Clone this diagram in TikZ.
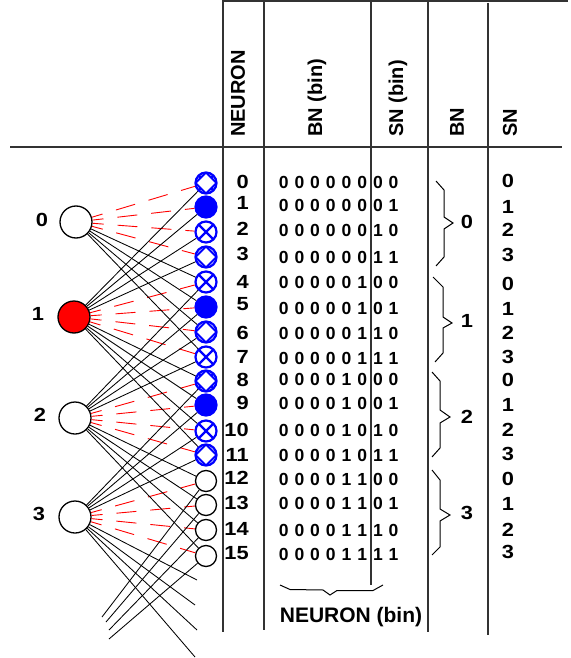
\documentclass[tikz,border=0pt]{standalone}
\usepackage{fontspec}
\setmainfont{Liberation Sans}
\newfontfamily\widesans{Liberation Sans}[FakeStretch=1.15]
\usetikzlibrary{calc}

% eight bits typeset in fixed-width cells
\newcommand\bitcells[8]{%
  \makebox[15.7pt]{#1}\makebox[15.7pt]{#2}\makebox[15.7pt]{#3}\makebox[15.7pt]{#4}%
  \makebox[15.7pt]{#5}\makebox[15.7pt]{#6}\makebox[15.7pt]{#7}\makebox[15.7pt]{#8}}

\tikzset{
  bignode/.style={circle, minimum size=32pt, inner sep=0pt, draw=black, line width=1.3pt, fill=white},
  sn/.style={circle, minimum size=21pt, inner sep=0pt, draw=blue, line width=2.2pt, fill=white},
  snfill/.style={sn, fill=blue},
  snx/.style={sn, path picture={\draw[blue, line width=2.2pt]
      (path picture bounding box.north west) -- (path picture bounding box.south east)
      (path picture bounding box.north east) -- (path picture bounding box.south west);}},
  snd/.style={sn, path picture={\draw[blue, line width=2pt]
      (path picture bounding box.north) -- (path picture bounding box.east) --
      (path picture bounding box.south) -- (path picture bounding box.west) -- cycle;}},
  snxd/.style={sn, path picture={\draw[blue, line width=2.2pt]
      (path picture bounding box.north west) -- (path picture bounding box.south east)
      (path picture bounding box.north east) -- (path picture bounding box.south west);
      \draw[blue, line width=2pt, fill=white]
      (path picture bounding box.north) -- (path picture bounding box.east) --
      (path picture bounding box.south) -- (path picture bounding box.west) -- cycle;}},
  snw/.style={circle, minimum size=21pt, inner sep=0pt, draw=black, line width=1.3pt, fill=white},
  excit/.style={draw=black, line width=0.85pt},
  inhib/.style={draw=red, line width=0.9pt, dash pattern=on 20pt off 14pt, dash phase=9pt},
  rule/.style={draw=black!80, line width=1.3pt},
  bracepath/.style={draw=black, line width=1pt},
  lbl/.style={inner sep=0pt, font=\widesans\bfseries\fontsize{19}{22}\selectfont},
  bits/.style={inner sep=0pt, anchor=west, font=\bfseries\fontsize{17.5}{20}\selectfont},
  head/.style={inner sep=0pt, rotate=90, anchor=west, font=\bfseries\fontsize{20}{24}\selectfont},
}

\begin{document}
\begin{tikzpicture}[x=1pt, y=-1pt]
\useasboundingbox (0,0) rectangle (570,658);

% ---------- table rules ----------
\draw[rule] (223,1) -- (568,1);
\draw[rule] (10,147) -- (562,147);
\draw[rule] (223,0) -- (223,632);
\draw[rule] (264,0) -- (264,630);
\draw[rule] (371,0) -- (371,585);
\draw[rule] (428,0) -- (428,632);
\draw[rule] (488,3) -- (488,635);

% ---------- column headers ----------
\node[head] (hneuron) at (238,137) {NEURON};
\node[head] (hbnbin)  at (317,137) {BN (bin)};
\node[head] (hsnbin)  at (398,137) {SN (bin)};
\node[head] (hbn)     at (457,137) {BN};
\node[head] (hsn)     at (510,137) {SN};

% ---------- neuron index column ----------
\foreach \k/\y in {0/182,1/203,2/229,3/254,4/282,5/304,6/333,7/357,
                   8/380,9/403,10/430,11/455,12/478,13/503,14/529,15/553}
  \node[lbl, anchor=east] (idx\k) at (249,\y) {\k};

% ---------- binary codes ----------
\foreach \k/\y/\a/\b/\c/\d in {0/182/0/0/0/0, 1/205.5/0/0/0/1, 2/230.5/0/0/1/0, 3/257/0/0/1/1,
                               4/282/0/1/0/0, 5/308/0/1/0/1, 6/333.5/0/1/1/0, 7/358/0/1/1/1,
                               8/379/1/0/0/0, 9/403/1/0/0/1, 10/430/1/0/1/0, 11/455/1/0/1/1,
                               12/479/1/1/0/0, 13/503.5/1/1/0/1, 14/530/1/1/1/0, 15/554/1/1/1/1}
  \node[bits] (bin\k) at (275.65,\y) {\bitcells{0}{0}{0}{0}{\a}{\b}{\c}{\d}};

% ---------- SN column ----------
\foreach \k/\v/\y in {0/0/181,1/1/207,2/2/230,3/3/255,4/0/284,5/1/309,6/2/333,7/3/357,
                      8/0/380,9/1/404.5,10/2/430,11/3/454,12/0/478.5,13/1/504,14/2/530,15/3/552}
  \node[lbl] (snv\k) at (508,\y) {\v};

% ---------- BN braces and labels ----------
\draw[bracepath] (436,181) -- (444,190) -- (444,217) -- (453,223) -- (444,229) -- (444,257) -- (436,266);
\draw[bracepath] (433,277) -- (443,287) -- (443,317) -- (452,323) -- (443,328) -- (443,353) -- (435,362);
\draw[bracepath] (432,372) -- (440,381) -- (440,410) -- (450,417) -- (440,423) -- (440,448) -- (432,457);
\draw[bracepath] (432,470) -- (440,480) -- (440,509) -- (450,515) -- (440,521) -- (440,547) -- (432,555);
\node[lbl] (bnv0) at (467,222) {0};
\node[lbl] (bnv1) at (467,321) {1};
\node[lbl] (bnv2) at (467,417) {2};
\node[lbl] (bnv3) at (467,513) {3};

% ---------- brace under the low bits ----------
\draw[bracepath] (280,585) -- (290,589.5) -- (323,590) -- (330,595) -- (337,590.5) -- (373,590.5) -- (383,585);
\node[inner sep=0pt, font=\bfseries\fontsize{21}{24}\selectfont] (nbin) at (351,617) {NEURON (bin)};

% ---------- network: big neurons ----------
\node[bignode] (n0) at (76,222) {};
\node[bignode, fill=red] (n1) at (74,317) {};
\node[bignode] (n2) at (75,418) {};
\node[bignode] (n3) at (75,517) {};
\node[lbl] (l0) at (42,220) {0};
\node[lbl] (l1) at (38,314) {1};
\node[lbl] (l2) at (40,415) {2};
\node[lbl] (l3) at (39,514) {3};

% ---------- network: small neurons ----------
\foreach \k/\y/\st in {0/183/snxd, 1/207/snfill, 2/232/snx, 3/257/snd,
                       4/282/snx, 5/307/snfill, 6/332/snd, 7/357/snx,
                       8/381/snxd, 9/405/snfill, 10/431/snx, 11/455/snd,
                       12/481/snw, 13/505/snw, 14/530/snw, 15/556/snw}
  \node[\st] (s\k) at (206,\y) {};

% loose ends toward the next group below
\coordinate (t16) at (197,580);
\coordinate (t17) at (195,605);
\coordinate (t18) at (197,630);
\coordinate (t19) at (195,657);
\coordinate (u12) at (102,617);
\coordinate (u13) at (106,622);
\coordinate (u14) at (109,630);
\coordinate (u15) at (109,639);

% ---------- connections ----------
\foreach \k in {0,...,15} {
  \pgfmathtruncatemacro\g{\k/4}
  \draw[inhib] (n\g) -- (s\k);
}
\foreach \k in {4,...,15} {
  \pgfmathtruncatemacro\p{\k/4-1}
  \draw[excit] (n\p) -- (s\k);
}
\foreach \k in {0,...,11} {
  \pgfmathtruncatemacro\q{\k/4+1}
  \draw[excit] (n\q) -- (s\k);
}
\foreach \k in {16,...,19}
  \draw[excit] (n3) -- (t\k);
\foreach \k in {12,...,15}
  \draw[excit] (u\k) -- (s\k);

\end{tikzpicture}
\end{document}
